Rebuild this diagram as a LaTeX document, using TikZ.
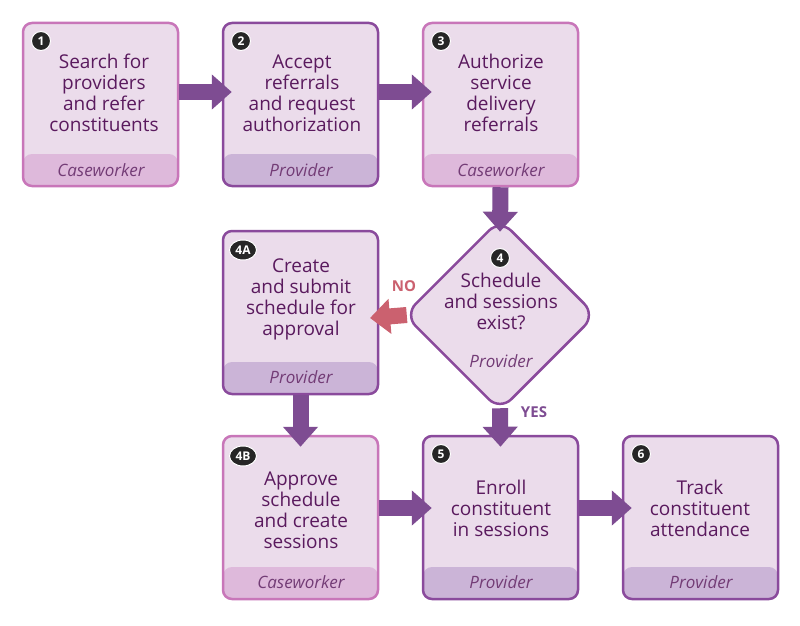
\documentclass[tikz,border=0pt]{standalone}
\usepackage{fontspec}
\setmainfont{Open Sans}
\usetikzlibrary{shapes.geometric,arrows.meta}
\definecolor{txt}{HTML}{5A1A5E}
\definecolor{cwb}{HTML}{C876B9}
\definecolor{cwf}{HTML}{DEB9DB}
\definecolor{pvb}{HTML}{8A4A9C}
\definecolor{pvf}{HTML}{CBB4D7}
\definecolor{bg}{HTML}{EBDCEB}
\definecolor{arr}{HTML}{7E4C92}
\definecolor{noarr}{HTML}{CB616F}
\tikzset{
 x=1pt,y=-1pt,
 box/.style={draw=#1,line width=2.5pt,fill=bg,rounded corners=9pt,minimum width=155pt,minimum height=163pt,inner sep=0pt},
 foot/.style={path picture={\fill[#1] ([yshift=32pt]path picture bounding box.south west) rectangle (path picture bounding box.south east);}},
 ttl/.style={text=txt,font=\fontsize{19}{21}\selectfont,align=center},
 role/.style={text=txt!85,font=\fontsize{17}{19}\selectfont\itshape},
 badge/.style={circle,fill=black!85,draw=white,line width=1pt,text=white,font=\bfseries\fontsize{12}{12}\selectfont,inner sep=0pt,minimum size=19pt},
 big/.style={line width=16pt,draw=arr,-{Triangle[width=34pt,length=20pt]}},
 lbl/.style={font=\bfseries\fontsize{15}{15}\selectfont},
}
\begin{document}
\begin{tikzpicture}
\useasboundingbox[fill=white] (0,0) rectangle (800,626);
% boxes
\node[box=cwb,foot=cwf] (b1) at (100.5,104.5) {};
\node[box=pvb,foot=pvf] (b2) at (300.5,104.5) {};
\node[box=cwb,foot=cwf] (b3) at (500.5,104.5) {};
\node[box=pvb,foot=pvf] (b4a) at (300.5,312.5) {};
\node[box=cwb,foot=cwf] (b4b) at (300.5,517.5) {};
\node[box=pvb,foot=pvf] (b5) at (500.5,517.5) {};
\node[box=pvb,foot=pvf] (b6) at (700.5,517.5) {};
\node[diamond,aspect=1,draw=pvb,line width=2.5pt,fill=bg,rounded corners=16pt,minimum width=192pt,minimum height=192pt,inner sep=0pt,
 path picture={\fill[pvf] (0,346) rectangle (800,420);}] (d4) at (500,315) {};
% arrows
\draw[big] (b1.east|-0,92) -- ([xshift=10pt]b2.west|-0,92);
\draw[big] (b2.east|-0,92) -- ([xshift=10pt]b3.west|-0,92);
\draw[big] (b3.south) -- ([yshift=-14pt]d4.north);
\draw[big,draw=noarr] ([xshift=4pt]d4.west) -- (370,318);
\draw[big] (b4a.south) -- ([yshift=-12pt]b4b.north);
\draw[big] ([yshift=4pt]d4.south) -- ([yshift=-12pt]b5.north);
\draw[big] (b4b.east|-0,508) -- ([xshift=10pt]b5.west|-0,508);
\draw[big] (b5.east|-0,508) -- ([xshift=10pt]b6.west|-0,508);
\node[lbl,text=noarr] (no) at (404,286) {NO};
\node[lbl,text=arr] (yes) at (534,412) {YES};
% texts
\node[ttl] (t1) at (104,93) {Search for\\providers\\and refer\\constituents};
\node[ttl] (t2) at (302,93) {Accept\\referrals\\and request\\authorization};
\node[ttl] (t3) at (501,93) {Authorize\\service\\delivery\\referrals};
\node[ttl] (t4a) at (301,299) {Create\\and submit\\schedule for\\approval};
\node[ttl] (t4) at (501,301) {Schedule\\and sessions\\exist?};
\node[ttl] (t4b) at (301,510) {Approve\\schedule\\and create\\sessions};
\node[ttl] (t5) at (501,508) {Enroll\\constituent\\in sessions};
\node[ttl] (t6) at (700,508) {Track\\constituent\\attendance};
\node[role] (r1) at (101,170) {Caseworker};
\node[role] (r2) at (301,170) {Provider};
\node[role] (r3) at (501,170) {Caseworker};
\node[role] (r4a) at (301,377) {Provider};
\node[role] (r4) at (501,361) {Provider};
\node[role] (r4b) at (301,582) {Caseworker};
\node[role] (r5) at (501,582) {Provider};
\node[role] (r6) at (701,582) {Provider};
% badges
\node[badge] (n1) at (41,41) {1};
\node[badge] (n2) at (241,41) {2};
\node[badge] (n3) at (441,41) {3};
\node[badge,ellipse,minimum width=27pt,minimum height=20pt] (n4a) at (243,250) {4A};
\node[badge] (n4) at (500,258) {4};
\node[badge,ellipse,minimum width=27pt,minimum height=20pt] (n4b) at (243,456) {4B};
\node[badge] (n5) at (441,454) {5};
\node[badge] (n6) at (641,454) {6};
\end{tikzpicture}
\end{document}
